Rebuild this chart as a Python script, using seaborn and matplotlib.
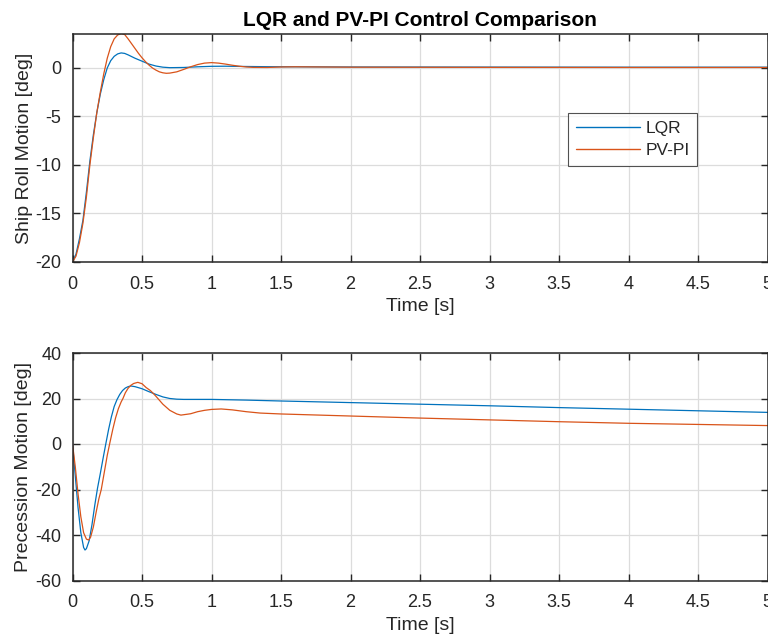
import numpy as np
import pandas as pd
import matplotlib
matplotlib.use("Agg")
import matplotlib.pyplot as plt
import seaborn as sns

# ---- data ----
roll_lqr_t = [0.0, 0.025, 0.05, 0.075, 0.10, 0.125, 0.15, 0.175, 0.20, 0.225, 0.25, 0.275, 0.30,
              0.325, 0.35, 0.375, 0.40, 0.45, 0.50, 0.55, 0.60, 0.65, 0.70, 0.80, 0.90, 1.00,
              1.10, 1.20, 1.40, 1.60, 2.00, 3.00, 4.00, 5.00]
roll_lqr_v = [-20.0, -19.2, -17.6, -15.7, -12.8, -9.6, -6.9, -4.6, -2.7, -1.2, 0.0, 0.75, 1.2,
              1.45, 1.55, 1.5, 1.35, 1.0, 0.7, 0.4, 0.2, 0.08, 0.03, 0.05, 0.12, 0.17,
              0.18, 0.16, 0.13, 0.12, 0.1, 0.09, 0.08, 0.08]

roll_pvpi_t = [0.0, 0.025, 0.05, 0.075, 0.10, 0.125, 0.15, 0.175, 0.20, 0.225, 0.25, 0.275, 0.30,
               0.325, 0.35, 0.375, 0.40, 0.425, 0.45, 0.475, 0.50, 0.525, 0.55, 0.575, 0.60,
               0.625, 0.65, 0.675, 0.70, 0.75, 0.80, 0.85, 0.90, 0.95, 1.00, 1.05, 1.10, 1.15,
               1.20, 1.25, 1.30, 1.40, 1.50, 1.60, 1.80, 2.00, 3.00, 4.00, 5.00]
roll_pvpi_v = [-20.0, -19.4, -18.0, -16.0, -13.3, -10.0, -7.2, -4.6, -2.5, -0.6, 1.0, 2.2, 3.0,
               3.4, 3.55, 3.45, 3.0, 2.5, 2.0, 1.5, 1.05, 0.65, 0.3, 0.0, -0.22,
               -0.4, -0.5, -0.55, -0.53, -0.4, -0.15, 0.12, 0.35, 0.5, 0.55, 0.5, 0.4, 0.28,
               0.18, 0.1, 0.06, 0.05, 0.1, 0.12, 0.1, 0.08, 0.06, 0.05, 0.05]

prec_lqr_t = [0.0, 0.02, 0.04, 0.06, 0.08, 0.09, 0.10, 0.12, 0.14, 0.16, 0.18, 0.20, 0.22, 0.24,
              0.26, 0.28, 0.30, 0.32, 0.34, 0.36, 0.38, 0.40, 0.42, 0.45, 0.50, 0.55, 0.60,
              0.65, 0.70, 0.75, 0.80, 0.90, 1.00, 1.25, 1.50, 2.00, 2.50, 3.00, 3.50, 4.00,
              4.50, 5.00]
prec_lqr_v = [0.0, -14.0, -28.0, -39.0, -45.5, -46.6, -46.0, -42.5, -35.5, -27.0, -19.4, -13.0,
              -6.3, 0.2, 6.5, 12.0, 16.5, 19.5, 21.8, 23.5, 24.6, 25.2, 25.5, 25.2, 24.3, 23.0,
              21.8, 20.7, 20.0, 19.7, 19.6, 19.6, 19.6, 19.3, 18.9, 18.2, 17.5, 16.8, 16.0,
              15.3, 14.6, 13.9]

prec_pvpi_t = [0.0, 0.02, 0.04, 0.06, 0.08, 0.10, 0.116, 0.13, 0.15, 0.17, 0.19, 0.207, 0.23,
               0.25, 0.267, 0.29, 0.31, 0.33, 0.35, 0.363, 0.38, 0.40, 0.42, 0.44, 0.47, 0.50,
               0.53, 0.56, 0.58, 0.60, 0.65, 0.70, 0.75, 0.78, 0.85, 0.90, 0.95, 1.00, 1.07,
               1.15, 1.25, 1.35, 1.50, 2.00, 2.50, 3.00, 3.50, 4.00, 4.50, 5.00]
prec_pvpi_v = [0.0, -10.0, -22.0, -32.0, -39.0, -41.8, -42.2, -41.0, -36.5, -30.0, -24.0, -20.0,
               -12.0, -5.0, 0.0, 6.5, 11.5, 15.5, 18.5, 20.0, 22.5, 24.5, 25.8, 26.6, 27.1,
               26.5, 24.8, 23.5, 22.3, 21.0, 17.5, 14.8, 13.2, 12.7, 13.3, 14.2, 14.8, 15.2,
               15.4, 15.0, 14.2, 13.6, 13.2, 12.3, 11.4, 10.6, 9.8, 9.1, 8.6, 8.1]

series_names = ["LQR", "PV-PI"]
x_ticks = [0, 0.5, 1, 1.5, 2, 2.5, 3, 3.5, 4, 4.5, 5]
x_tick_labels = ["0", "0.5", "1", "1.5", "2", "2.5", "3", "3.5", "4", "4.5", "5"]
roll_y_ticks = [-20, -15, -10, -5, 0]
prec_y_ticks = [-60, -40, -20, 0, 20, 40]

title = "LQR and PV-PI Control Comparison"
x_label = "Time [s]"
roll_label = "Ship Roll Motion [deg]"
prec_label = "Precession Motion [deg]"

# ---- styling ----
sns.set_theme(style="white")
plt.rcParams["font.family"] = ["Liberation Sans", "DejaVu Sans"]
plt.rcParams["axes.unicode_minus"] = False

BLUE = "#0072BD"
ORANGE = "#D95319"
AX_COLOR = "#262626"

roll_df = pd.concat([
    pd.DataFrame({"t": roll_lqr_t, "v": roll_lqr_v, "s": series_names[0]}),
    pd.DataFrame({"t": roll_pvpi_t, "v": roll_pvpi_v, "s": series_names[1]}),
])
prec_df = pd.concat([
    pd.DataFrame({"t": prec_lqr_t, "v": prec_lqr_v, "s": series_names[0]}),
    pd.DataFrame({"t": prec_pvpi_t, "v": prec_pvpi_v, "s": series_names[1]}),
])

fig = plt.figure(figsize=(7.68, 6.39), dpi=100)
W, H = 768.0, 639.0
left = 72.5 / W
width = (767.5 - 72.5) / W
ax1 = fig.add_axes([left, 1 - 262 / H, width, (262 - 34) / H])
ax2 = fig.add_axes([left, 1 - 580.5 / H, width, (580.5 - 353) / H])

palette = {series_names[0]: BLUE, series_names[1]: ORANGE}

sns.lineplot(data=roll_df, x="t", y="v", hue="s", palette=palette, ax=ax1,
             linewidth=0.9, sort=False, estimator=None)
sns.lineplot(data=prec_df, x="t", y="v", hue="s", palette=palette, ax=ax2,
             linewidth=0.9, sort=False, estimator=None, legend=False)

for ax, yt, ylim, ylab in [(ax1, roll_y_ticks, (-20, 3.5), roll_label),
                           (ax2, prec_y_ticks, (-60, 40), prec_label)]:
    ax.set_xlim(0, 5)
    ax.set_ylim(*ylim)
    ax.set_xticks(x_ticks)
    ax.set_xticklabels(x_tick_labels)
    ax.set_yticks(yt)
    ax.grid(True, color="#dcdcdc", linewidth=0.9)
    ax.set_axisbelow(True)
    for sp in ax.spines.values():
        sp.set_visible(True)
        sp.set_color(AX_COLOR)
        sp.set_linewidth(1.1)
    ax.tick_params(direction="in", length=5, width=1.0, color=AX_COLOR,
                   labelsize=13, labelcolor=AX_COLOR, top=True, right=True,
                   bottom=True, left=True)
    ax.tick_params(axis="x", pad=10)
    ax.tick_params(axis="y", pad=8)
    ax.set_xlabel(x_label, fontsize=14, color=AX_COLOR, labelpad=4)
    ax.set_ylabel(ylab, fontsize=14, color=AX_COLOR, labelpad=2)

ax1.set_title(title, fontsize=15, fontweight="bold", color="black", pad=6)

leg = ax1.legend(loc="upper left", bbox_to_anchor=(0.713, 0.655), fontsize=12.5,
                 frameon=True, fancybox=False, edgecolor=AX_COLOR, handlelength=3.7,
                 borderpad=0.45, labelspacing=0.4, handletextpad=0.3, borderaxespad=0)
leg.get_frame().set_linewidth(0.8)
for line in leg.get_lines():
    line.set_linewidth(1.0)

fig.savefig("out.png", dpi=100)
